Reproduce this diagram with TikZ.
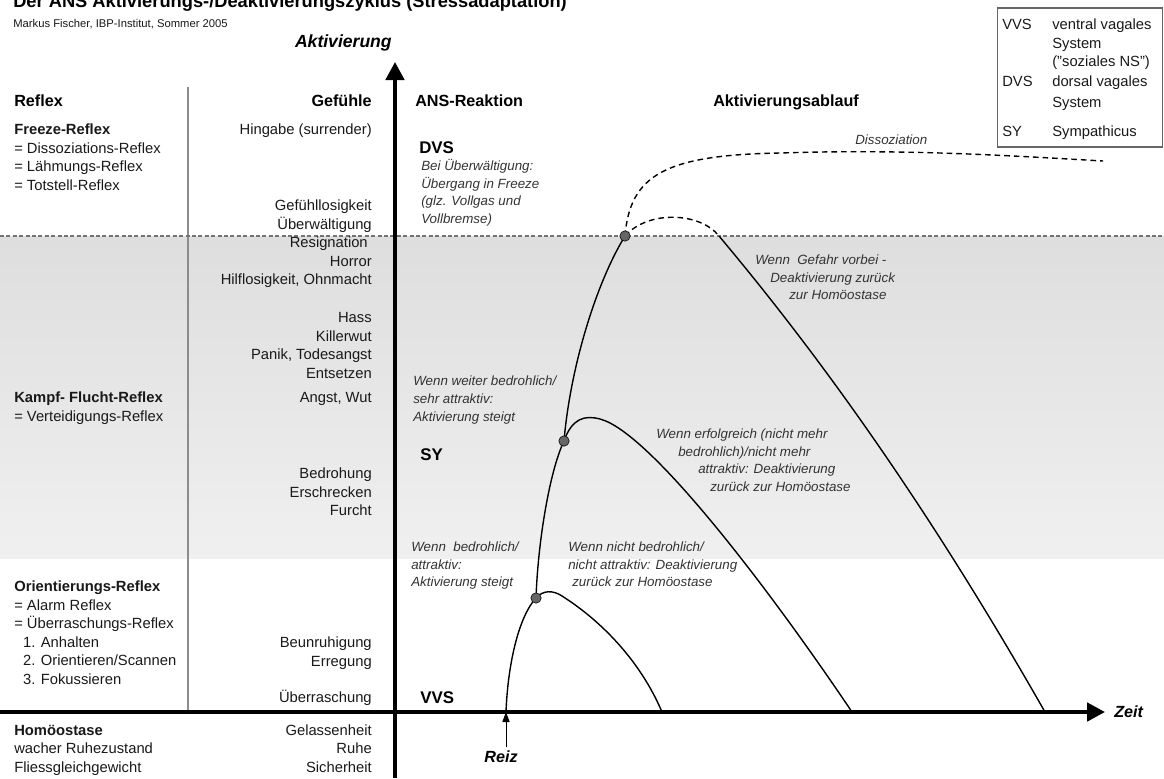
\documentclass[tikz,border=0pt]{standalone}
\usepackage{fontspec}
\setmainfont{Liberation Sans}
\usepackage{tikz}
\usetikzlibrary{arrows.meta}
\tikzset{
    lbl/.style = {inner sep=0, font=\fontsize{10.5}{13.2}\selectfont, text=black!90},
    refl/.style = {lbl, anchor=base west, align=left},
    feel/.style = {lbl, anchor=base east, align=right},
    head/.style = {inner sep=0, anchor=base west, font=\fontsize{11.5}{14}\selectfont\bfseries},
    ans/.style = {inner sep=0, anchor=base west, font=\fontsize{12}{14}\selectfont\bfseries},
    axlbl/.style = {inner sep=0, font=\fontsize{11.5}{14}\selectfont\bfseries\itshape},
    note/.style = {inner sep=0, anchor=base west, align=left,
        font=\fontsize{9.5}{12.6}\selectfont\itshape, text=black!80},
    curve/.style = {line width=0.35mm},
    brokenline/.style = {line width=0.35mm, dash pattern=on 1.4mm off 1mm},
    dot/.style = {circle, draw, fill=black!60, inner sep=0, minimum size=2.6mm},
    axis/.style = {line width=0.9mm, -{Triangle[length=4.5mm, width=4.6mm]}}
}

\begin{document}
\begin{tikzpicture}[x=0.25mm, y=-0.25mm]
    \useasboundingbox (0,0) rectangle (1164,778);

    % grey band of the sympathetic range
    \shade[top color=black!13, bottom color=black!6] (0,236) rectangle (1164,558);

    % Title, cut at the upper edge
    \begin{scope}
        \clip (0,0) rectangle (1164,778);
        \node[head, font=\fontsize{13}{15}\selectfont\bfseries] (title) at (13,7)
            {Der ANS Aktivierungs-/Deaktivierungszyklus (Stressadaptation)};
    \end{scope}
    \node[lbl, anchor=base west, font=\fontsize{8}{10}\selectfont] (autor) at (13,27)
        {Markus Fischer, IBP-Institut, Sommer 2005};

    % Separator and freeze border
    \coordinate (septop) at (188,87);
    \coordinate (sepbot) at (188,712);
    \draw[black!45, line width=0.3mm] (septop) -- (sepbot);
    \coordinate (freezel) at (0,236);
    \coordinate (freezer) at (1164,236);
    \draw[black!55, line width=0.3mm, dash pattern=on 1mm off 0.6mm] (freezel) -- (freezer);

    % Axes
    \coordinate (ybot) at (395,778);
    \coordinate (ytop) at (395,62);
    \coordinate (xleft) at (0,712);
    \coordinate (xright) at (1105,712);
    \draw[axis] (ybot) -- (ytop);
    \draw[axis] (xleft) -- (xright);
    \node[axlbl, font=\fontsize{12.5}{14}\selectfont\bfseries\itshape, anchor=base east] (aktiv) at (392,47) {Aktivierung};
    \node[axlbl, anchor=base west] (zeit) at (1114,717) {Zeit};
    \node[axlbl, anchor=base] (reiz) at (501,762) {Reiz};

    % Curves
    \coordinate (start) at (506,712);
    \coordinate (p1) at (536,598);
    \coordinate (p2) at (564,441);
    \coordinate (p3) at (625,236);
    \coordinate (k3) at (719,236);
    \coordinate (e1) at (662,712);
    \coordinate (e2) at (852,712);
    \coordinate (e3) at (1045,712);
    \coordinate (dissend) at (1103,161);
    \coordinate (reizfuss) at (506,747);

    \draw[line width=0.25mm, -{Triangle[length=2.5mm, width=1.8mm]}] (reizfuss) -- (start);
    \draw[curve] (start) .. controls (508,660) and (520,615) .. (p1)
        .. controls (538,540) and (550,470) .. (p2)
        .. controls (570,370) and (595,285) .. (p3);
    \draw[curve] (p1) .. controls (543,590) and (553,590) .. (562,596)
        .. controls (600,620) and (640,660) .. (e1);
    \draw[curve] (p2) .. controls (572,418) and (585,415) .. (600,419)
        .. controls (650,432) and (770,590) .. (e2);
    \draw[brokenline] (p3) .. controls (648,210) and (700,212) .. (k3);
    \draw[curve] (k3) .. controls (829,367) and (935,519) .. (e3);
    \draw[brokenline] (p3) .. controls (630,175) and (665,155) .. (780,153)
        .. controls (900,149) and (1000,155) .. (dissend);

    \node[dot] (d1) at (p1) {};
    \node[dot] (d2) at (p2) {};
    \node[dot] (d3) at (p3) {};

    % Column heads
    \node[head] (reflexhd) at (14,106.5) {Reflex};
    \node[head, anchor=base east] (gefuehlhd) at (372,106.5) {Gefühle};
    \node[head] (anshd) at (415,106.5) {ANS-Reaktion};
    \node[head] (ablaufhd) at (713,106.5) {Aktivierungsablauf};

    % Reflexes (base = last line)
    \node[refl] (freeze) at (14,190.2) {\textbf{Freeze-Reflex}\\= Dissoziations-Reflex\\= Lähmungs-Reflex\\= Totstell-Reflex};
    \node[refl] (kampf) at (14,421.1) {\textbf{Kampf- Flucht-Reflex}\\= Verteidigungs-Reflex};
    \node[refl] (orient) at (14,684.3) {\textbf{Orientierungs-Reflex}\\= Alarm Reflex\\= Überraschungs-Reflex\\
        \hspace*{2.2mm}1. Anhalten\\\hspace*{2.2mm}2. Orientieren/Scannen\\\hspace*{2.2mm}3. Fokussieren};
    \node[refl] (homoe) at (14,772.5) {\textbf{Homöostase}\\wacher Ruhezustand\\Fliessgleichgewicht};

    % Feelings
    \node[feel] (hingabe) at (372,134.5) {Hingabe (surrender)};
    \node[feel] (ueberw) at (372,229.1) {Gefühllosigkeit\\Überwältigung};
    \node[feel] (horror) at (372,284.6) {Resignation\hspace*{1mm}\\Horror\\Hilflosigkeit, Ohnmacht};
    \node[feel] (hass) at (372,378.2) {Hass\\Killerwut\\Panik, Todesangst\\Entsetzen};
    \node[feel] (angst) at (372,402.5) {Angst, Wut};
    \node[feel] (bedroh) at (372,515.6) {Bedrohung\\Erschrecken\\Furcht};
    \node[feel] (unruhe) at (372,666.1) {Beunruhigung\\Erregung};
    \node[feel] (ueberr) at (372,702.5) {Überraschung};
    \node[feel] (ruhe) at (372,772.5) {Gelassenheit\\Ruhe\\Sicherheit};

    % ANS states
    \node[ans] (dvs) at (419,153) {DVS};
    \node[note] (dvsnote) at (421,223.6) {Bei Überwältigung:\\Übergang in Freeze\\(glz. Vollgas und\\Vollbremse)};
    \node[ans] (sy) at (420,460) {SY};
    \node[ans] (vvs) at (420,703) {VVS};

    % Notes on the course
    \node[note] (steigt2) at (413,421) {Wenn weiter bedrohlich/\\sehr attraktiv:\\Aktivierung steigt};
    \node[note] (steigt1) at (411,586.9) {Wenn\ \ bedrohlich/\\attraktiv:\\Aktivierung steigt};
    \node[note] (zurueck1) at (568,586.9) {Wenn nicht bedrohlich/\\nicht attraktiv: Deaktivierung\\\hspace*{1mm}zurück zur Homöostase};
    \node[note] (zurueck2) at (656,491.6) {Wenn erfolgreich (nicht mehr\\\hspace*{5.5mm}bedrohlich)/nicht mehr\\
        \hspace*{10.5mm}attraktiv: Deaktivierung\\\hspace*{13.5mm}zurück zur Homöostase};
    \node[note] (zurueck3) at (755,299.9) {Wenn\ \ Gefahr vorbei -\\\hspace*{3.75mm}Deaktivierung zurück\\\hspace*{8.5mm}zur Homöostase};
    \node[note] (dissoz) at (855,144.5) {Dissoziation};

    % Legend
    \node[draw=black!60, line width=0.3mm, inner sep=0, minimum width=41.3mm,
        minimum height=34.75mm] (legende) at (1080,77.5) {};
    \node[lbl, anchor=base west] (lvvs) at (1002,29.5) {VVS};
    \node[refl] (lvvstxt) at (1052,66.6) {ventral vagales\\System\\("soziales NS")};
    \node[lbl, anchor=base west] (ldvs) at (1002,86.5) {DVS};
    \node[lbl, anchor=base west] (ldvstxt) at (1052,86.5) {dorsal vagales};
    \node[lbl, anchor=base west] (ldvssys) at (1052,107.5) {System};
    \node[lbl, anchor=base west] (lsy) at (1002,136.5) {SY};
    \node[lbl, anchor=base west] (lsytxt) at (1052,136.5) {Sympathicus};

\end{tikzpicture}
\end{document}
